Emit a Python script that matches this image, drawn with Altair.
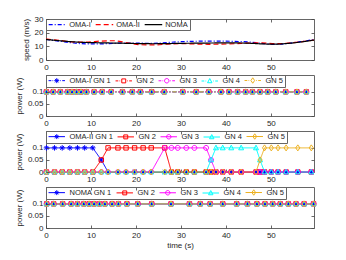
import altair as alt
import pandas as pd

# ---------------- data ----------------
# panel 1: UAV speed (m/s)
T_SPEED = [0, 3, 6, 9, 12, 15, 18, 21, 24, 27, 30, 33, 36, 39, 42, 45, 48, 51, 54, 57, 59.6]
SPEED_OMA1 = [15.0, 13.8, 12.5, 11.8, 11.8, 12.2, 12.4, 12.3, 12.2, 12.8, 13.4, 13.7, 13.8, 13.8, 13.6, 13.2, 12.2, 11.4, 12.2, 13.6, 15.0]
SPEED_OMA2 = [15.3, 14.4, 13.2, 13.1, 13.8, 14.1, 12.6, 11.2, 11.0, 11.6, 12.0, 11.7, 11.5, 11.6, 11.9, 12.4, 12.6, 11.9, 12.4, 13.4, 14.6]
SPEED_NOMA = [15.0, 14.1, 13.3, 12.8, 12.6, 12.4, 12.2, 12.0, 11.9, 12.0, 12.2, 12.3, 12.4, 12.5, 12.5, 12.3, 11.8, 11.6, 12.2, 13.3, 14.6]
SPEED_NAMES = ["OMA-I", "OMA-II", "NOMA"]

# panel 2: OMA-I power (all GNs share the same level)
T_OMA1 = [0.1, 1.6, 3.2, 4.8, 5.8, 6.8, 7.8, 9.0, 10.7, 12.5, 14.5, 17.0, 19.2, 21.0, 23.5,
          26.3, 30.4, 33.4, 36.2, 38.9, 40.7, 42.6, 44.4, 45.9, 47.6, 49.3, 51.1, 53.3, 55.8, 57.9]
P_OMA1 = [0.1, 0.1, 0.1, 0.1, 0.1, 0.1, 0.1, 0.1, 0.1, 0.1, 0.1, 0.1, 0.1, 0.1, 0.1,
          0.1, 0.1, 0.1, 0.1, 0.1, 0.1, 0.1, 0.1, 0.1, 0.1, 0.1, 0.1, 0.1, 0.1, 0.1]

# panel 3: OMA-II power per GN
T_OMA2 = [0.1, 1.9, 3.6, 5.3, 7.0, 8.6, 10.4, 12.3, 13.8, 16.0, 17.8, 19.7, 21.6, 23.4, 26.4, 27.9, 29.3,
          31.2, 33.0, 35.6, 36.7, 37.8, 39.3, 41.2, 43.4, 46.7, 47.6, 48.6, 50.1, 51.6, 53.4, 56.0, 59.0]
P_OMA2_GN1 = [0.1, 0.1, 0.1, 0.1, 0.1, 0.1, 0.1, 0.05, 0, 0, 0, 0, 0, 0, 0, 0, 0,
              0, 0, 0, 0, 0, 0, 0, 0, 0, 0, 0, 0, 0, 0, 0, 0]
P_OMA2_GN2 = [0, 0, 0, 0, 0, 0, 0, 0.05, 0.1, 0.1, 0.1, 0.1, 0.1, 0.1, 0.1, 0, 0,
              0, 0, 0, 0, 0, 0, 0, 0, 0, 0, 0, 0, 0, 0, 0, 0]
P_OMA2_GN3 = [0, 0, 0, 0, 0, 0, 0, 0, 0, 0, 0, 0, 0, 0, 0.1, 0.1, 0.1,
              0.1, 0.1, 0.1, 0.05, 0, 0, 0, 0, 0, 0, 0, 0, 0, 0, 0, 0]
P_OMA2_GN4 = [0, 0, 0, 0, 0, 0, 0, 0, 0, 0, 0, 0, 0, 0, 0, 0, 0,
              0, 0, 0, 0.05, 0.1, 0.1, 0.1, 0.1, 0.1, 0.05, 0, 0, 0, 0, 0, 0]
P_OMA2_GN5 = [0, 0, 0, 0, 0, 0, 0, 0, 0, 0, 0, 0, 0, 0, 0, 0, 0,
              0, 0, 0, 0, 0, 0, 0, 0, 0, 0.05, 0.1, 0.1, 0.1, 0.1, 0.1, 0.1]

# panel 4: NOMA power (all GNs share the same level)
T_NOMA = [0.15, 1.7, 3.7, 5.6, 7.0, 8.4, 9.6, 10.7, 11.9, 13.1, 14.7, 16.1, 18.0, 20.4, 23.5,
          27.8, 31.9, 34.3, 36.5, 39.3, 42.4, 44.8, 46.9, 48.7, 50.4, 52.1, 53.9, 55.6, 57.4, 59.5]
P_NOMA = [0.1, 0.1, 0.1, 0.1, 0.1, 0.1, 0.1, 0.1, 0.1, 0.1, 0.1, 0.1, 0.1, 0.1, 0.1,
          0.1, 0.1, 0.1, 0.1, 0.1, 0.1, 0.1, 0.1, 0.1, 0.1, 0.1, 0.1, 0.1, 0.1, 0.1]

GN_KEYS = ["k1", "k2", "k3", "k4", "k5"]
LEG_OMA1 = ["OMA-I GN 1", "GN 2", "GN 3", "GN 4", "GN 5"]
LEG_OMA2 = ["OMA-II GN 1", "GN 2", "GN 3", "GN 4", "GN 5"]
LEG_NOMA = ["NOMA GN 1", "GN 2", "GN 3", "GN 4", "GN 5"]

X_TICKS = [0, 10, 20, 30, 40, 50]
P_TICKS = [0, 0.05, 0.1]
S_TICKS = [0, 10, 20, 30]
XMAX = 59.6

# ---------------- styles ----------------
GN_COLORS = ["#0000FF", "#FF0000", "#FF00FF", "#00FFFF", "#EDB120"]
SPEED_COLORS = ["#0000FF", "#FF0000", "#000000"]
SPEED_DASH = [[4, 2, 1, 2], [5, 3], [1, 0]]
FONT = "Liberation Sans"
TXT = "#262626"
MSIZE = 30


def f(v):
    return f"{v:.3f}".rstrip("0").rstrip(".")


def star(r):
    a = 0.7 * r
    return (f"M{f(-r)},0L{f(r)},0M0,{f(-r)}L0,{f(r)}"
            f"M{f(-a)},{f(-a)}L{f(a)},{f(a)}M{f(-a)},{f(a)}L{f(a)},{f(-a)}")


def square(r):
    s = 0.8 * r
    return f"M{f(-s)},{f(-s)}L{f(s)},{f(-s)}L{f(s)},{f(s)}L{f(-s)},{f(s)}Z"


def circle(r):
    c = 0.9 * r
    return f"M{f(c)},0A{f(c)},{f(c)},0,1,1,{f(-c)},0A{f(c)},{f(c)},0,1,1,{f(c)},0Z"


def tri(r):
    return f"M0,{f(-r)}L{f(0.9 * r)},{f(0.7 * r)}L{f(-0.9 * r)},{f(0.7 * r)}Z"


def diam(r):
    return f"M0,{f(-1.1 * r)}L{f(0.75 * r)},0L0,{f(1.1 * r)}L{f(-0.75 * r)},0Z"


MARKERS = [star(1), square(1), circle(1), tri(1), diam(1)]
L = 3.0
SOLID_SEG = f"M{f(-L)},0L{f(L)},0"
DASHDOT_SEG = "M-3,0L-2,0M-1.55,0L-1.3,0M1.3,0L1.55,0M2,0L3,0"
SPEED_SEG = "M-3.2,0L3.2,0"


def legend_syms(seg):
    return [seg + m for m in [star(0.9), square(0.9), circle(0.9), tri(0.9), diam(0.9)]]


def x_axis_bottom(title):
    return alt.Axis(values=X_TICKS, tickCount=20, format="d", labelFlush=False, title=title,
                    tickSize=3, offset=-3, labelPadding=3, titlePadding=2,
                    domain=False, grid=False)


def y_axis_left(title, values, fmt):
    return alt.Axis(values=values, tickCount=20, format=fmt, title=title, tickSize=3,
                    offset=-3, labelPadding=3, titlePadding=4, domain=False, grid=False,
                    labelOverlap=False, labelBound=False, labelFlush=False, zindex=3)


def ghost_layer(df, yfield, xs, ys, yvals):
    return alt.Chart(df).mark_point(opacity=0).encode(
        x=alt.X("t:Q", scale=xs, axis=alt.Axis(orient="top", values=X_TICKS, tickCount=20, labels=False,
                                               title=None, tickSize=3, offset=-3, domain=False,
                                               grid=False)),
        y=alt.Y(f"{yfield}:Q", scale=ys, axis=alt.Axis(orient="right", values=yvals, tickCount=20,
                                                       labels=False, title=None, tickSize=3, offset=-3,
                                                       domain=False, grid=False)),
    )


W, H = 268, 41
xs = alt.Scale(domain=[0, XMAX], nice=False, zero=False)

# ---------------- panel 1 ----------------
rows = []
for name, vals in zip(SPEED_NAMES, [SPEED_OMA1, SPEED_OMA2, SPEED_NOMA]):
    for t, v in zip(T_SPEED, vals):
        rows.append({"t": t, "v": v, "s": name})
df1 = pd.DataFrame(rows)
ys1 = alt.Scale(domain=[0, 30], nice=False)
leg1 = alt.Legend(title=None, orient="top-left", direction="horizontal", columns=3,
                  symbolType=SPEED_SEG, symbolSize=MSIZE, symbolOffset=6.2, labelOffset=8,
                  symbolStrokeWidth=1.2, columnPadding=1)
speed_lines = alt.Chart(df1).mark_line(strokeWidth=1.2, interpolate="monotone").encode(
    x=alt.X("t:Q", scale=xs, axis=x_axis_bottom(None)),
    y=alt.Y("v:Q", scale=ys1, axis=y_axis_left("speed (m/s)", S_TICKS, "d")),
    color=alt.Color("s:N", scale=alt.Scale(domain=SPEED_NAMES, range=SPEED_COLORS), legend=leg1),
    strokeDash=alt.StrokeDash("s:N", scale=alt.Scale(domain=SPEED_NAMES, range=SPEED_DASH), legend=leg1),
)
panel1 = alt.layer(speed_lines, ghost_layer(df1, "v", xs, ys1, S_TICKS)).resolve_axis(
    x="independent", y="independent").properties(width=W, height=H)


# ---------------- power panels ----------------
def power_panel(t, lists, leg_labels, dash, seg, xtitle):
    rows = []
    for k, vals in zip(GN_KEYS, lists):
        for tt, pp in zip(t, vals):
            rows.append({"t": tt, "p": pp, "s": k})
    df = pd.DataFrame(rows)
    dom = GN_KEYS + leg_labels
    ys = alt.Scale(domain=[0, 0.17], nice=False)
    leg = alt.Legend(title=None, values=leg_labels, orient="top-left", direction="horizontal",
                     columns=5, symbolSize=MSIZE, symbolOffset=5.5, labelOffset=9,
                     symbolStrokeWidth=1, columnPadding=2)
    cscale = alt.Scale(domain=dom, range=GN_COLORS + GN_COLORS)
    sscale = alt.Scale(domain=dom, range=MARKERS + legend_syms(seg))
    lines = alt.Chart(df).mark_line(strokeWidth=1, strokeDash=dash).encode(
        x=alt.X("t:Q", scale=xs, axis=x_axis_bottom(xtitle)),
        y=alt.Y("p:Q", scale=ys, axis=y_axis_left("power (W)", P_TICKS, ".2~f")),
        color=alt.Color("s:N", scale=cscale, legend=leg),
    )
    pts = alt.Chart(df).mark_point(filled=False, strokeWidth=1, size=MSIZE, opacity=1).encode(
        x=alt.X("t:Q", scale=xs, axis=None),
        y=alt.Y("p:Q", scale=ys, axis=None),
        color=alt.Color("s:N", scale=cscale, legend=leg),
        shape=alt.Shape("s:N", scale=sscale, legend=leg),
    )
    return alt.layer(lines, pts, ghost_layer(df, "p", xs, ys, P_TICKS)).resolve_axis(
        x="independent", y="independent").properties(width=W, height=H)


panel2 = power_panel(T_OMA1, [P_OMA1] * 5, LEG_OMA1, [4, 2, 1, 2], DASHDOT_SEG, None)
panel3 = power_panel(T_OMA2, [P_OMA2_GN1, P_OMA2_GN2, P_OMA2_GN3, P_OMA2_GN4, P_OMA2_GN5],
                     LEG_OMA2, [1, 0], SOLID_SEG, None)
panel4 = power_panel(T_NOMA, [P_NOMA] * 5, LEG_NOMA, [1, 0], SOLID_SEG, "time (s)")

chart = alt.vconcat(panel1, panel2, panel3, panel4, spacing=15, bounds="flush").resolve_scale(
    x="independent", y="independent", color="independent", shape="independent",
    strokeDash="independent").resolve_legend(color="independent", shape="independent",
                                              strokeDash="independent").properties(
    padding={"left": 6, "top": 6, "right": 5, "bottom": 5}
).configure_view(stroke="#666", strokeWidth=1).configure_axis(
    labelFont=FONT, labelFontSize=8, labelColor=TXT, titleFont=FONT, titleFontSize=8,
    titleFontWeight="normal", titleColor=TXT, tickColor="#444", tickWidth=0.8,
    labelOverlap=False
).configure_legend(
    labelFont=FONT, labelFontSize=7.5, labelColor=TXT, strokeColor="#666", fillColor="transparent",
    padding=1.5, cornerRadius=0, rowPadding=0, offset=0, zindex=0
)

chart.save("out.html", embed_options={"renderer": "svg", "actions": False})
